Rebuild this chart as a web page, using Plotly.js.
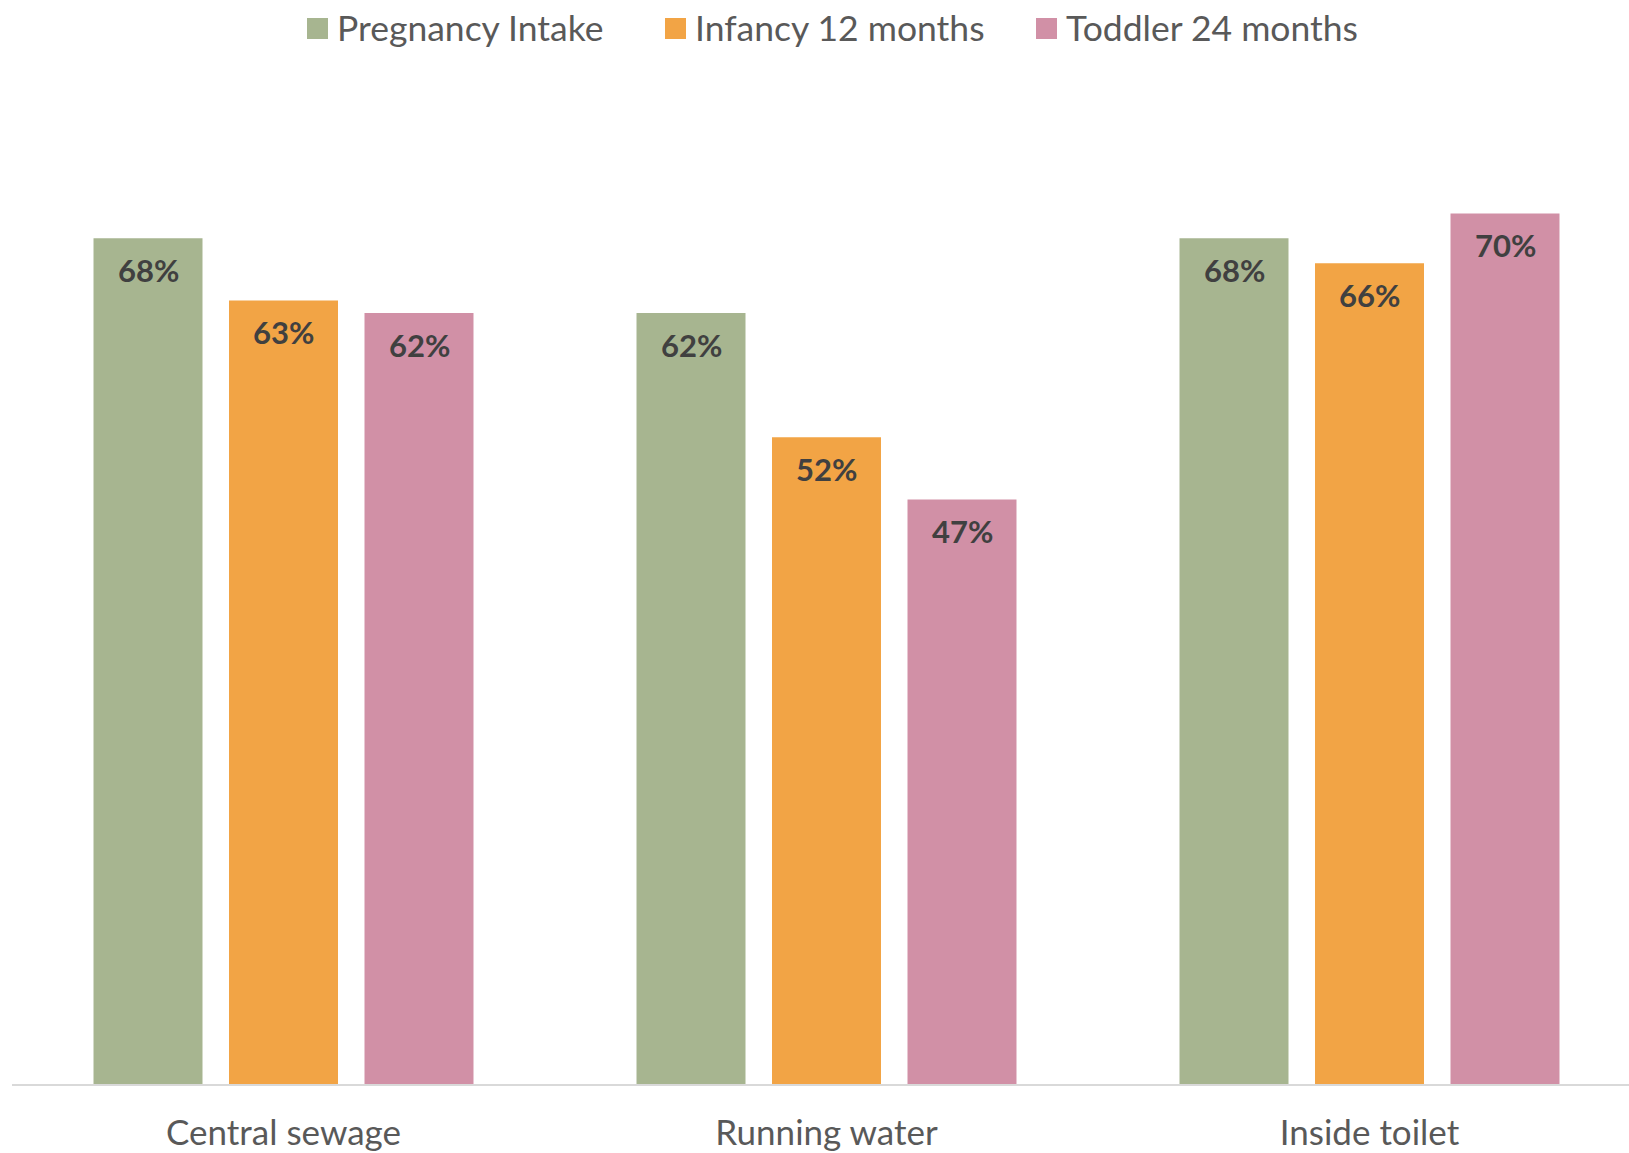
<!DOCTYPE html>
<html>
<head>
<meta charset="utf-8">
<script src="https://cdn.plot.ly/plotly-3.0.1.min.js"></script>
<style>html,body{margin:0;padding:0;background:#fff;}#chart{width:1629px;height:1153px;}</style>
</head>
<body>
<div id="chart"></div>
<script>
const categories = ["Central sewage", "Running water", "Inside toilet"];
const seriesNames = ["Pregnancy Intake", "Infancy 12 months", "Toddler 24 months"];
const pregnancyIntake = [0.68, 0.62, 0.68];
const infancy12 = [0.63, 0.52, 0.66];
const toddler24 = [0.62, 0.47, 0.70];
const colors = ["#A7B590", "#F2A445", "#D190A6"];

const allSeries = [pregnancyIntake, infancy12, toddler24];

const W = 1629, H = 1153;
const mL = 12, mR = 0, mT = 89, mB = 69;
const plotW = W - mL - mR, plotH = H - mT - mB;
const catPx = 543;
const xMax = -0.5 + plotW / catPx;
const slot = 135.5 / catPx;

const px2x = p => (p - mL) / plotW;
const px2y = p => (H - mB - p) / plotH;

const traces = allSeries.map((vals, j) => ({
  type: 'bar',
  name: seriesNames[j],
  x: categories.map((c, i) => i),
  y: vals,
  marker: {color: colors[j]},
  hoverinfo: 'none',
  showlegend: false
}));

const annotations = [];
allSeries.forEach((vals, j) => {
  vals.forEach((v, i) => {
    annotations.push({
      x: i + (j - 1) * slot, y: v, xref: 'x', yref: 'y',
      text: '<b>' + Math.round(v * 100) + '%</b>',
      showarrow: false, yshift: -32, yanchor: 'middle', xanchor: 'center',
      font: {family: 'Lato, sans-serif', size: 31, color: '#404040'}
    });
  });
});

const shapes = [];
const legSq = [307, 665, 1036];
const legTx = [335, 693, 1064];
seriesNames.forEach((n, j) => {
  shapes.push({
    type: 'rect', xref: 'paper', yref: 'paper',
    x0: px2x(legSq[j]), x1: px2x(legSq[j] + 21),
    y0: px2y(39), y1: px2y(18),
    fillcolor: colors[j], line: {width: 0}
  });
  annotations.push({
    x: px2x(legTx[j]), y: px2y(28), xref: 'paper', yref: 'paper',
    xanchor: 'left', yanchor: 'middle', showarrow: false,
    text: n, font: {family: 'Lato, sans-serif', size: 35.5, color: '#595959'}
  });
});

const layout = {
  width: W, height: H,
  margin: {l: mL, r: mR, t: mT, b: mB, pad: 0},
  paper_bgcolor: '#fff', plot_bgcolor: '#fff',
  barmode: 'group', bargap: 0.2514, bargroupgap: 0.1956,
  showlegend: false,
  xaxis: {
    range: [-0.5, xMax], tickmode: 'array',
    tickvals: categories.map((c, i) => i), ticktext: categories,
    showline: true, linecolor: '#D9D9D9', linewidth: 2,
    showgrid: false, zeroline: false, ticks: '',
    tickfont: {family: 'Lato, sans-serif', size: 35, color: '#595959'},
    ticklabelstandoff: 17, fixedrange: true
  },
  yaxis: {range: [0, 0.8], visible: false, showgrid: false, zeroline: false, fixedrange: true},
  annotations: annotations,
  shapes: shapes
};

Plotly.newPlot('chart', traces, layout, {displayModeBar: false, staticPlot: true});
</script>
</body>
</html>
